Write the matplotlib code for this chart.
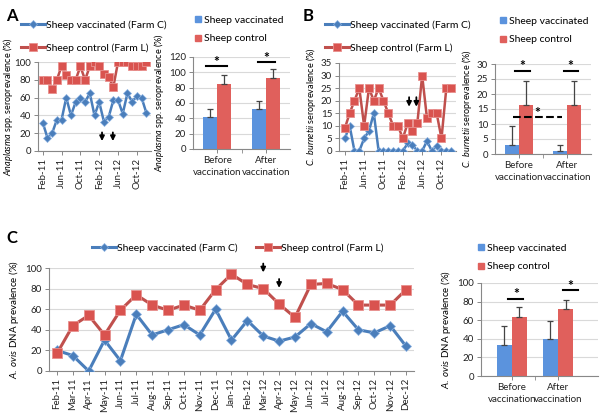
import numpy as np
import matplotlib
matplotlib.use("Agg")
import matplotlib.pyplot as plt
from matplotlib.lines import Line2D
from matplotlib.patches import Patch

plt.rcParams['font.family'] = ['Lato', 'DejaVu Sans']
plt.rcParams['mathtext.fontset'] = 'custom'
plt.rcParams['mathtext.rm'] = 'Lato'
plt.rcParams['mathtext.it'] = 'Lato:italic'
plt.rcParams['font.size'] = 7

# monthly labels Feb-11 .. Dec-12
months = ['Feb-11', 'Mar-11', 'Apr-11', 'May-11', 'Jun-11', 'Jul-11', 'Aug-11', 'Sep-11',
          'Oct-11', 'Nov-11', 'Dec-11', 'Jan-12', 'Feb-12', 'Mar-12', 'Apr-12', 'May-12',
          'Jun-12', 'Jul-12', 'Aug-12', 'Sep-12', 'Oct-12', 'Nov-12', 'Dec-12']

# panel A (Anaplasma seroprevalence)
a_vacc = [32, 15, 20, 35, 35, 60, 40, 55, 60, 55, 65, 40, 55, 33, 38, 57, 57, 42, 65, 55, 62, 60, 43]
a_ctrl = [80, 80, 70, 80, 95, 85, 80, 80, 95, 80, 95, 100, 95, 87, 83, 72, 100, 100, 100, 95, 95, 95, 100]
a_bar_vacc = [42, 52]
a_bar_vacc_err = [10, 10]
a_bar_ctrl = [85, 92]
a_bar_ctrl_err = [11, 12]

# panel B (C. burnetii seroprevalence)
b_vacc = [5, 10, 0, 0, 5, 8, 15, 0, 0, 0, 0, 0, 0, 3, 2.5, 0, 0, 4, 0, 2, 0, 0, 0]
b_ctrl = [9, 15, 20, 25, 10, 25, 20, 25, 20, 15, 10, 10, 5, 11, 8, 11, 30, 13, 15, 15, 5, 25, 25]
b_bar_vacc = [3, 1]
b_bar_vacc_err = [6.2, 2]
b_bar_ctrl = [16.2, 16.2]
b_bar_ctrl_err = [8.2, 8.2]

# panel C (A. ovis DNA prevalence)
c_vacc = [20, 15, 0, 30, 10, 55, 35, 40, 45, 35, 60, 30, 49, 34, 29, 33, 46, 38, 58, 40, 37, 44, 24]
c_ctrl = [17, 44, 54, 35, 59, 74, 64, 59, 64, 59, 79, 94, 84, 80, 65, 52, 84, 85, 79, 64, 64, 64, 79]
c_bar_vacc = [33, 40]
c_bar_vacc_err = [21, 19]
c_bar_ctrl = [63, 72]
c_bar_ctrl_err = [11, 10]

periods = ['Before\nvaccination', 'After\nvaccination']

BLUE = '#4a7ebb'
RED = '#c0504d'
BAR_BLUE = '#5b93dd'
BAR_RED = '#e0605c'
GRID = '#d9d9d9'
AXC = '#888888'

W, H = 600, 413
fig = plt.figure(figsize=(6, 4.13), dpi=100)


def add_ax(l, t, r, b):
    return fig.add_axes([l / W, 1 - b / H, (r - l) / W, (b - t) / H])


def style(ax):
    for s in ['top', 'right']:
        ax.spines[s].set_visible(False)
    for s in ['left', 'bottom']:
        ax.spines[s].set_color(AXC)
        ax.spines[s].set_linewidth(0.8)
    ax.tick_params(colors='#222222', length=3, width=0.7, labelsize=7, pad=2)
    ax.tick_params(axis='both', color=AXC)
    ax.yaxis.grid(True, color=GRID, lw=0.8)
    ax.set_axisbelow(True)


def line_panel(ax, vacc, ctrl, ymax, ystep, every, ms_d=4, ms_s=5.5, lw=2.0):
    x = np.arange(len(months))
    ax.plot(x, vacc, color=BLUE, lw=lw, marker='D', ms=ms_d, mfc=BLUE, mec='#8db3e2', mew=0.5, zorder=3)
    ax.plot(x, ctrl, color=RED, lw=lw, marker='s', ms=ms_s, mfc='#d9534f', mec='#e8908e', mew=0.6, zorder=3)
    ax.set_ylim(0, ymax)
    ax.set_yticks(np.arange(0, ymax + 0.1, ystep))
    ax.set_xticks(x[::every])
    ax.set_xticklabels(months[::every], rotation=90)
    style(ax)


def bar_panel(ax, vacc, verr, ctrl, cerr, ymax, ystep, w=0.29):
    x = np.arange(2)
    ax.bar(x - w / 2, vacc, w, color=BAR_BLUE, zorder=2)
    ax.bar(x + w / 2, ctrl, w, color=BAR_RED, zorder=2)
    ax.errorbar(x - w / 2, vacc, yerr=[np.zeros(2), verr], fmt='none', ecolor='#444444',
                elinewidth=0.9, capsize=2.5, capthick=0.9, zorder=3)
    ax.errorbar(x + w / 2, ctrl, yerr=[np.zeros(2), cerr], fmt='none', ecolor='#444444',
                elinewidth=0.9, capsize=2.5, capthick=0.9, zorder=3)
    ax.set_ylim(0, ymax)
    ax.set_yticks(np.arange(0, ymax + 0.1, ystep))
    ax.set_xticks(x)
    ax.set_xticklabels(periods, fontsize=7.5, linespacing=1.5)
    ax.tick_params(axis='x', length=0, pad=9)
    ax.set_xticks([0.5], minor=True)
    ax.tick_params(axis='x', which='minor', length=3, color=AXC)
    style(ax)


def sig(ax, x0, x1, y, ystar, ls='-'):
    ax.plot([x0, x1], [y, y], color='black', lw=1.5, ls=ls, clip_on=False, zorder=4)
    ax.text((x0 + x1) / 2, ystar, '*', ha='center', va='center', fontsize=10, fontweight='bold', clip_on=False)


def arrow(ax, x, y0, y1):
    ax.annotate('', xy=(x, y1), xytext=(x, y0),
                arrowprops=dict(arrowstyle='-|>', color='black', lw=1.3, mutation_scale=7),
                annotation_clip=False, zorder=5)


line_handles = [
    Line2D([], [], color=BLUE, lw=2.2, marker='D', ms=4, mfc=BLUE, mec='#8db3e2', mew=0.5),
    Line2D([], [], color=RED, lw=2.2, marker='s', ms=5.5, mfc='#d9534f', mec='#e8908e', mew=0.6),
]
line_labels = ['Sheep vaccinated (Farm C)', 'Sheep control (Farm L)']
bar_handles = [Patch(color=BAR_BLUE), Patch(color=BAR_RED)]
bar_labels = ['Sheep vaccinated', 'Sheep control']


def legend(handles, labels, x, y, ncol=1, bar=False, **kw):
    opts = dict(loc='upper left', bbox_to_anchor=(x / W, 1 - y / H), bbox_transform=fig.transFigure,
                frameon=False, fontsize=7.5, ncol=ncol, borderaxespad=0, borderpad=0)
    if bar:
        opts.update(handlelength=0.55, handleheight=0.55, handletextpad=0.3, labelspacing=0.9)
    else:
        opts.update(handlelength=2.3, handletextpad=0.1, labelspacing=1.3)
    opts.update(kw)
    fig.legend(handles, labels, **opts)


# ---- Panel A ----
axA = add_ax(38, 62, 151, 151)
line_panel(axA, a_vacc, a_ctrl, 100, 20, 4, lw=1.8)
axA.set_xlim(-1, 23)
axA.set_ylabel(r'$\it{Anaplasma}$ spp. seroprevalence (%)', fontsize=6.5)
axA.yaxis.set_label_coords(-0.2, 0.5)
arrow(axA, 12.6, 24, 8)
arrow(axA, 14.9, 24, 8)
legend(line_handles, line_labels, 21, 20)

axAb = add_ax(193, 57, 290, 149)
bar_panel(axAb, a_bar_vacc, a_bar_vacc_err, a_bar_ctrl, a_bar_ctrl_err, 120, 20)
axAb.set_xlim(-0.5, 1.5)
axAb.set_ylabel(r'$\it{Anaplasma}$ spp. seroprevalence (%)', fontsize=6.5, labelpad=2)
sig(axAb, -0.24, 0.2, 108, 114)
sig(axAb, 0.83, 1.2, 113, 119)
legend(bar_handles, bar_labels, 195, 16, bar=True)

# ---- Panel B ----
axB = add_ax(339, 63, 456, 151)
line_panel(axB, b_vacc, b_ctrl, 35, 5, 4, lw=1.8)
axB.set_xlim(-1.2, 23)
axB.set_ylabel(r'$\it{C.\ burnetii}$ seroprevalence (%)', fontsize=6.5, labelpad=2)
arrow(axB, 13.3, 22.5, 16.5)
arrow(axB, 14.8, 22.5, 16.5)
legend(line_handles, line_labels, 325, 20)

axBb = add_ax(495, 64, 591, 154)
bar_panel(axBb, b_bar_vacc, b_bar_vacc_err, b_bar_ctrl, b_bar_ctrl_err, 30, 5)
axBb.set_xlim(-0.5, 1.5)
axBb.set_ylabel(r'$\it{C.\ burnetii}$ seroprevalence (%)', fontsize=6.5, labelpad=2)
sig(axBb, -0.08, 0.23, 27.8, 29.3)
sig(axBb, 0.93, 1.22, 27.8, 29.3)
sig(axBb, -0.12, 0.9, 12.2, 13.6, ls='--')
legend(bar_handles, bar_labels, 500, 17, bar=True)

# ---- Panel C ----
axC = add_ax(49, 268, 414, 371)
line_panel(axC, c_vacc, c_ctrl, 100, 20, 1, ms_d=5, ms_s=6.5, lw=2.2)
axC.set_xlim(-0.5, 22.5)
axC.set_ylabel(r'$\it{A.\ ovis}$ DNA prevalence (%)', fontsize=7, labelpad=3)
arrow(axC, 13, 107, 93)
arrow(axC, 14, 92, 78)
legend(line_handles, line_labels, 92, 243, ncol=2, columnspacing=1.8)

axCb = add_ax(481, 283, 598, 376)
bar_panel(axCb, c_bar_vacc, c_bar_vacc_err, c_bar_ctrl, c_bar_ctrl_err, 100, 20, w=0.33)
axCb.set_xlim(-0.67, 1.87)
axCb.set_ylabel(r'$\it{A.\ ovis}$ DNA prevalence (%)', fontsize=7, labelpad=3)
sig(axCb, -0.08, 0.25, 83, 88)
sig(axCb, 1.1, 1.43, 92, 97)
legend(bar_handles, bar_labels, 478, 244, bar=True)

# panel letters
for lbl, x, y in [('A', 6, 16), ('B', 303, 16), ('C', 6, 238)]:
    fig.text(x / W, 1 - y / H, lbl, fontsize=12, fontweight='bold', va='center', ha='left')

fig.savefig('out.png', dpi=100)
